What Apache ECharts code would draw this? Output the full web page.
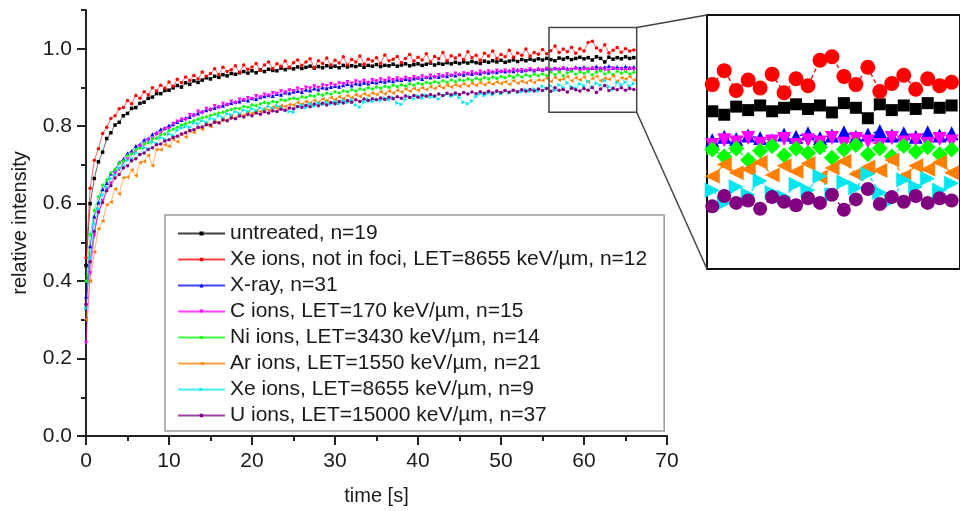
<!DOCTYPE html>
<html>
<head>
<meta charset="utf-8">
<script src="https://cdn.jsdelivr.net/npm/echarts@6/dist/echarts.min.js"></script>
<style>
  html, body { margin: 0; padding: 0; background: #ffffff; }
  #chart { width: 960px; height: 511px; }
</style>
</head>
<body>
<div id="chart"></div>
<script>
// Recovery time grid (s)
const time = [
  0,0.5,1,1.5,2,2.5,3,3.5,4,4.5,
  5,5.5,6,6.5,7,7.5,8,8.5,9,9.5,
  10,10.5,11,11.5,12,12.5,13,13.5,14,14.5,
  15,15.5,16,16.5,17,17.5,18,18.5,19,19.5,
  20,20.5,21,21.5,22,22.5,23,23.5,24,24.5,
  25,25.5,26,26.5,27,27.5,28,28.5,29,29.5,
  30,30.5,31,31.5,32,32.5,33,33.5,34,34.5,
  35,35.5,36,36.5,37,37.5,38,38.5,39,39.5,
  40,40.5,41,41.5,42,42.5,43,43.5,44,44.5,
  45,45.5,46,46.5,47,47.5,48,48.5,49,49.5,
  50,50.5,51,51.5,52,52.5,53,53.5,54,54.5,
  55,55.5,56,56.5,57,57.5,58,58.5,59,59.5,
  60,60.5,61,61.5,62,62.5,63,63.5,64,64.5,
  65,65.5,66
];

// Relative intensity per condition
const untreated = [
  .44,.60,.665,.708,.733,.768,.783,.803,.810,.827,
  .833,.846,.848,.859,.862,.872,.875,.884,.884,.892,
  .893,.899,.905,.901,.912,.908,.917,.913,.919,.925,
  .922,.929,.926,.933,.930,.936,.934,.938,.941,.937,
  .943,.938,.945,.941,.947,.944,.943,.950,.946,.951,
  .948,.953,.949,.952,.955,.950,.954,.951,.956,.952,
  .955,.951,.957,.953,.956,.954,.958,.952,.957,.955,
  .959,.954,.957,.956,.960,.955,.958,.961,.956,.959,
  .961,.957,.960,.963,.958,.962,.960,.964,.961,.965,
  .962,.966,.963,.967,.964,.962,.968,.965,.969,.966,
  .970,.965,.968,.971,.967,.972,.969,.973,.970,.974,
  .971,.975,.972,.969,.976,.973,.977,.972,.975,.978,
  .974,.977,.971,.979,.975,.966,.978,.973,.977,.974,
  .979,.975,.977
];
const xeNotInFoci = [
  .46,.64,.712,.742,.781,.797,.820,.827,.845,.848,
  .866,.858,.879,.872,.889,.881,.899,.891,.906,.898,
  .914,.903,.921,.912,.927,.918,.931,.922,.940,.929,
  .936,.948,.933,.952,.941,.946,.956,.939,.958,.947,
  .953,.962,.944,.958,.966,.949,.961,.955,.968,.952,
  .964,.971,.957,.966,.974,.951,.969,.962,.976,.958,
  .970,.963,.979,.958,.972,.966,.981,.960,.973,.968,
  .977,.962,.984,.969,.973,.980,.964,.975,.985,.968,
  .978,.971,.987,.966,.980,.974,.990,.969,.982,.976,
  .984,.972,.992,.977,.983,.970,.988,.981,.994,.975,
  .985,.979,.996,.978,.989,.983,.999,.981,.990,.986,
  .998,.987,.995,1.007,.990,.999,.992,1.004,.988,1.000,
  .994,1.016,1.019,1.002,.995,1.010,.989,.996,1.003,.991,
  1.000,.994,.997
];
const xray = [
  .36,.49,.567,.603,.637,.653,.678,.688,.707,.715,
  .730,.736,.749,.753,.765,.768,.779,.783,.792,.795,
  .802,.805,.811,.816,.821,.824,.830,.833,.838,.841,
  .845,.847,.851,.853,.857,.860,.863,.864,.868,.866,
  .872,.870,.875,.877,.880,.878,.883,.881,.887,.885,
  .889,.891,.888,.894,.892,.897,.895,.900,.898,.901,
  .904,.902,.906,.909,.905,.910,.908,.912,.910,.914,
  .913,.916,.915,.918,.916,.920,.919,.922,.920,.923,
  .925,.922,.927,.926,.929,.927,.931,.929,.933,.931,
  .935,.933,.937,.935,.938,.936,.940,.938,.941,.939,
  .943,.941,.944,.942,.946,.943,.945,.947,.944,.948,
  .946,.949,.947,.950,.948,.951,.949,.947,.952,.950,
  .953,.949,.951,.954,.950,.952,.955,.951,.953,.950,
  .954,.951,.953
];
const cIons = [
  .24,.42,.518,.578,.607,.637,.652,.677,.688,.707,
  .714,.729,.736,.748,.753,.764,.768,.779,.781,.792,
  .793,.806,.812,.817,.816,.829,.827,.838,.835,.845,
  .841,.852,.848,.858,.855,.864,.860,.869,.867,.873,
  .870,.878,.875,.882,.879,.886,.884,.890,.887,.893,
  .891,.897,.893,.900,.898,.903,.899,.906,.904,.909,
  .905,.911,.909,.914,.910,.916,.913,.917,.912,.919,
  .916,.921,.917,.923,.919,.924,.920,.925,.922,.927,
  .923,.929,.925,.931,.927,.932,.928,.934,.930,.936,
  .932,.937,.934,.939,.935,.941,.937,.942,.938,.943,
  .940,.944,.939,.946,.941,.945,.942,.947,.943,.946,
  .944,.948,.943,.947,.945,.949,.944,.946,.948,.943,
  .947,.945,.949,.944,.948,.946,.943,.949,.945,.947,
  .944,.948,.946
];
const niIons = [
  .40,.52,.583,.618,.648,.661,.680,.688,.704,.710,
  .724,.729,.740,.743,.754,.757,.767,.769,.778,.780,
  .788,.792,.797,.803,.806,.810,.814,.818,.822,.824,
  .828,.831,.834,.836,.840,.843,.846,.845,.851,.849,
  .855,.853,.858,.861,.859,.864,.862,.868,.866,.870,
  .872,.870,.876,.874,.879,.877,.883,.880,.885,.883,
  .889,.886,.891,.889,.894,.891,.896,.894,.899,.896,
  .901,.898,.903,.900,.906,.902,.907,.904,.909,.906,
  .911,.908,.913,.910,.915,.912,.917,.913,.919,.915,
  .920,.917,.922,.918,.924,.920,.926,.922,.927,.923,
  .928,.925,.930,.926,.932,.927,.933,.929,.934,.930,
  .935,.931,.939,.933,.940,.930,.938,.942,.934,.940,
  .936,.941,.932,.939,.943,.935,.940,.933,.942,.937,
  .941,.935,.939
];
const arIons = [
  .30,.40,.475,.535,.555,.597,.604,.638,.625,.667,
  .668,.687,.672,.706,.709,.725,.698,.740,.739,.752,
  .748,.766,.760,.779,.772,.787,.784,.796,.792,.805,
  .799,.812,.808,.818,.815,.826,.821,.831,.828,.837,
  .833,.840,.838,.845,.842,.849,.846,.853,.851,.856,
  .855,.861,.857,.864,.860,.867,.862,.870,.866,.874,
  .869,.876,.871,.879,.874,.881,.877,.884,.879,.886,
  .882,.889,.884,.891,.886,.893,.888,.896,.891,.897,
  .893,.899,.895,.902,.897,.904,.899,.906,.901,.907,
  .903,.909,.904,.911,.906,.912,.907,.913,.909,.914,
  .910,.915,.908,.917,.911,.916,.912,.918,.913,.919,
  .918,.924,.916,.926,.919,.922,.928,.917,.925,.920,
  .927,.915,.923,.929,.918,.924,.921,.930,.916,.925,
  .922,.928,.919
];
const xeIons = [
  .33,.46,.548,.586,.623,.642,.665,.674,.692,.698,
  .712,.716,.731,.727,.745,.741,.759,.755,.770,.766,
  .780,.776,.789,.795,.799,.797,.808,.806,.814,.810,
  .820,.817,.827,.822,.832,.829,.837,.833,.841,.838,
  .845,.839,.847,.843,.851,.846,.853,.849,.842,.838,
  .836,.850,.855,.848,.858,.852,.860,.856,.862,.857,
  .863,.858,.866,.861,.868,.855,.849,.862,.869,.864,
  .870,.866,.873,.868,.874,.860,.856,.869,.876,.871,
  .878,.872,.880,.875,.876,.870,.879,.883,.877,.881,
  .874,.862,.858,.865,.876,.884,.879,.886,.881,.889,
  .884,.891,.886,.893,.887,.889,.895,.890,.896,.891,
  .903,.897,.904,.893,.907,.900,.912,.902,.898,.909,
  .904,.916,.900,.911,.906,.918,.902,.895,.913,.907,
  .914,.904,.910
];
const uIons = [
  .34,.45,.528,.578,.603,.633,.646,.666,.675,.692,
  .698,.711,.716,.727,.731,.740,.744,.752,.754,.762,
  .765,.771,.774,.780,.783,.789,.791,.797,.798,.804,
  .803,.810,.809,.816,.814,.821,.819,.826,.824,.830,
  .827,.834,.831,.837,.834,.840,.838,.844,.841,.847,
  .845,.851,.848,.854,.850,.857,.853,.859,.855,.861,
  .858,.864,.860,.866,.862,.868,.864,.870,.866,.871,
  .868,.873,.869,.875,.871,.876,.872,.878,.874,.879,
  .875,.880,.877,.882,.878,.883,.879,.885,.881,.886,
  .882,.887,.883,.888,.884,.889,.885,.890,.886,.891,
  .887,.892,.888,.893,.889,.894,.890,.895,.891,.896,
  .892,.897,.890,.899,.893,.895,.888,.898,.894,.891,
  .897,.893,.900,.887,.896,.905,.892,.898,.894,.899,
  .893,.897,.895
];

const seriesNames = [
  'untreated, n=19',
  'Xe ions, not in foci, LET=8655 keV/µm, n=12',
  'X-ray, n=31',
  'C ions, LET=170 keV/µm, n=15',
  'Ni ions, LET=3430 keV/µm, n=14',
  'Ar ions, LET=1550 keV/µm, n=21',
  'Xe ions, LET=8655 keV/µm, n=9',
  'U ions, LET=15000 keV/µm, n=37'
];
const seriesValues = [untreated, xeNotInFoci, xray, cIons, niIons, arIons, xeIons, uIons];

const xTicks = [0, 10, 20, 30, 40, 50, 60, 70];
const yTicks = [0, 0.2, 0.4, 0.6, 0.8, 1.0];

// Window magnified in the inset
const zoomTime = [55.78, 66.35];
const zoomIntensity = [0.836, 1.055];

// Marker look per condition
const looks = [
  { color: '#000000', symbol: 'rect',     rotate: 0,   size: 3.5, big: 12 },
  { color: '#ff0000', symbol: 'circle',   rotate: 0,   size: 3.5, big: 15 },
  { color: '#0000ff', symbol: 'triangle', rotate: 0,   size: 4,   big: 14 },
  { color: '#ff00ff', symbol: 'triangle', rotate: 180, size: 4,   big: 14 },
  { color: '#00ff00', symbol: 'diamond',  rotate: 0,   size: 4,   big: 16 },
  { color: '#ff8000', symbol: 'triangle', rotate: 90,  size: 4,   big: 15 },
  { color: '#00e6f0', symbol: 'triangle', rotate: -90, size: 4,   big: 15 },
  { color: '#800080', symbol: 'circle',   rotate: 0,   size: 3.5, big: 14 }
];

const FONT = '"Liberation Sans", Arial, sans-serif';
const TEXT = '#1a1a1a';

function pairs(vals) {
  const n = Math.min(time.length, vals.length);
  const out = [];
  for (let i = 0; i < n; i++) out.push([time[i], vals[i]]);
  return out;
}

const series = [];
seriesValues.forEach((vals, k) => {
  const lk = looks[k];
  series.push({
    type: 'line', name: seriesNames[k], data: pairs(vals),
    xAxisIndex: 0, yAxisIndex: 0,
    symbol: lk.symbol, symbolRotate: lk.rotate, symbolSize: lk.size,
    showAllSymbol: true, silent: true,
    lineStyle: { color: lk.color, width: 0.8, opacity: 0.75 },
    itemStyle: { color: lk.color },
    emphasis: { disabled: true }
  });
});
seriesValues.forEach((vals, k) => {
  const lk = looks[k];
  series.push({
    type: 'line', name: seriesNames[k], data: pairs(vals),
    xAxisIndex: 1, yAxisIndex: 2,
    symbol: lk.symbol, symbolRotate: lk.rotate, symbolSize: lk.big,
    showAllSymbol: true, silent: true, clip: true,
    lineStyle: { color: lk.color, width: 1.3, type: [4, 3] },
    itemStyle: { color: lk.color },
    emphasis: { disabled: true }
  });
});

const chart = echarts.init(document.getElementById('chart'), null, { renderer: 'canvas' });

const option = {
  animation: false,
  backgroundColor: '#ffffff',
  textStyle: { fontFamily: FONT },
  grid: [
    { left: 86, top: 10, width: 581, height: 426, containLabel: false },
    { left: 707, top: 15, width: 262, height: 254, show: true,
      borderColor: '#111111', borderWidth: 2, backgroundColor: '#ffffff' }
  ],
  xAxis: [
    {
      type: 'value', gridIndex: 0, min: 0, max: 70, interval: 10,
      name: 'time [s]', nameLocation: 'middle', nameGap: 50,
      nameTextStyle: { fontSize: 20, color: TEXT, fontFamily: FONT },
      axisLine: { show: true, onZero: false, lineStyle: { color: '#222222', width: 2 } },
      axisTick: { show: true, length: 9, lineStyle: { color: '#222222', width: 2 }, customValues: xTicks },
      minorTick: { show: true, splitNumber: 2, length: 5, lineStyle: { color: '#222222', width: 2 } },
      axisLabel: { fontSize: 21, color: TEXT, margin: 15, fontFamily: FONT, customValues: xTicks },
      splitLine: { show: false }
    },
    {
      type: 'value', gridIndex: 1, min: zoomTime[0], max: zoomTime[1], show: false
    }
  ],
  yAxis: [
    {
      type: 'value', gridIndex: 0, min: 0, max: 1.1, interval: 0.1,
      name: 'relative intensity', nameLocation: 'middle', nameGap: 56,
      nameTextStyle: { fontSize: 20, color: TEXT, fontFamily: FONT },
      axisLine: { show: true, onZero: false, lineStyle: { color: '#222222', width: 2 } },
      axisTick: { show: true, length: 5, lineStyle: { color: '#222222', width: 2 } },
      axisLabel: {
        fontSize: 21, color: TEXT, margin: 14, fontFamily: FONT,
        customValues: yTicks,
        formatter: v => Number(v).toFixed(1)
      },
      splitLine: { show: false }
    },
    {
      type: 'value', gridIndex: 0, min: 0, max: 1.1, position: 'left', offset: 0,
      axisLine: { show: false },
      axisTick: { show: true, length: 9, lineStyle: { color: '#222222', width: 2 }, customValues: yTicks },
      axisLabel: { show: false },
      splitLine: { show: false }
    },
    {
      type: 'value', gridIndex: 1, min: zoomIntensity[0], max: zoomIntensity[1], show: false
    }
  ],
  legend: {
    data: seriesNames,
    orient: 'vertical',
    left: 165, top: 215,
    padding: [8, 17, 5, 12],
    itemWidth: 47, itemHeight: 5, itemGap: 5,
    selectedMode: false,
    borderColor: '#9a9a9a', borderWidth: 1.5,
    backgroundColor: '#ffffff',
    textStyle: { fontSize: 21, lineHeight: 21, color: TEXT, fontFamily: FONT }
  },
  series: series
};

chart.setOption(option);

// Magnification frame on the main plot plus guide lines to the inset
const boxTL = chart.convertToPixel({ xAxisIndex: 0, yAxisIndex: 0 }, [zoomTime[0], zoomIntensity[1]]);
const boxBR = chart.convertToPixel({ xAxisIndex: 0, yAxisIndex: 0 }, [zoomTime[1], zoomIntensity[0]]);
const insetTL = chart.convertToPixel({ xAxisIndex: 1, yAxisIndex: 2 }, [zoomTime[0], zoomIntensity[1]]);
const insetBL = chart.convertToPixel({ xAxisIndex: 1, yAxisIndex: 2 }, [zoomTime[0], zoomIntensity[0]]);

chart.setOption({
  graphic: [
    {
      type: 'rect', silent: true, z: 10,
      shape: { x: boxTL[0], y: boxTL[1], width: boxBR[0] - boxTL[0], height: boxBR[1] - boxTL[1] },
      style: { fill: 'none', stroke: '#444444', lineWidth: 1.5 }
    },
    {
      type: 'line', silent: true, z: 10,
      shape: { x1: boxBR[0], y1: boxTL[1], x2: insetTL[0], y2: insetTL[1] },
      style: { stroke: '#444444', lineWidth: 1.5 }
    },
    {
      type: 'line', silent: true, z: 10,
      shape: { x1: boxBR[0], y1: boxBR[1], x2: insetBL[0], y2: insetBL[1] },
      style: { stroke: '#444444', lineWidth: 1.5 }
    }
  ]
});
</script>
</body>
</html>
